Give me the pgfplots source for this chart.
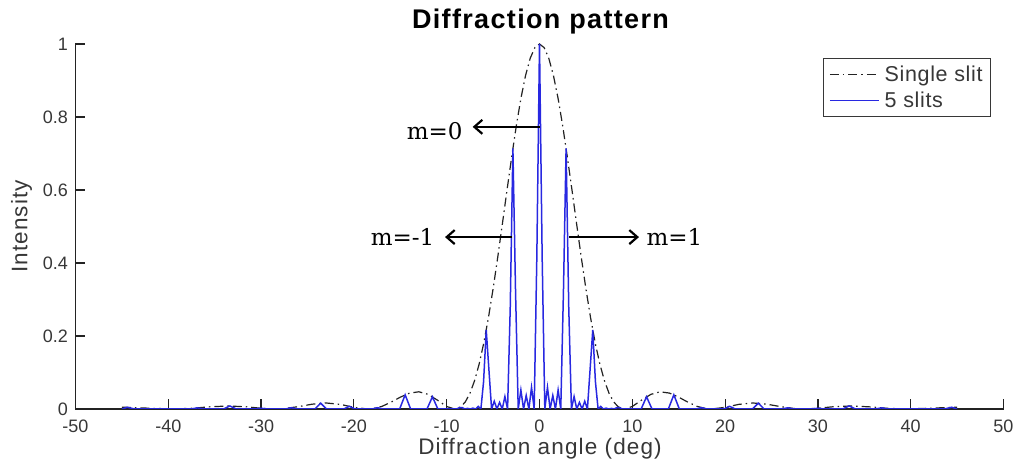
\documentclass[border=0pt]{standalone}
\usepackage{fontspec}
\setmainfont{Liberation Sans}
\newfontfamily\annfont{DejaVu Serif}
\newfontfamily\spacedfont[LetterSpace=5]{Liberation Sans}
\newfontfamily\legfont[LetterSpace=3]{Liberation Sans}
\usepackage{pgfplots}
\pgfplotsset{compat=1.18}
\usetikzlibrary{arrows.meta}
\definecolor{txtgray}{RGB}{55,55,55}
\definecolor{envcol}{RGB}{35,35,35}
\definecolor{slitblue}{RGB}{40,40,225}

\pgfplotstableread{
x y
-45 0.0050
-42 0.0021
-39.5 0
-37.5 0.0018
-35.5 0.0060
-33.5 0.0083
-31.5 0.0058
-30 0.0020
-28.49 0
-27.5 0.0011
-26 0.0064
-24.5 0.0132
-23 0.0165
-21.5 0.0128
-20 0.0046
-18.54 0
-18 0.0008
-17 0.0070
-16 0.0186
-15 0.0324
-14 0.0436
-13 0.0471
-12 0.0401
-11 0.0243
-10 0.0069
-9.15 0
-8.5 0.0056
-8 0.0193
-7.5 0.0427
-7 0.0773
-6.5 0.1235
-6 0.1815
-5.5 0.2506
-5 0.3295
-4.5 0.4158
-4 0.5071
-3.5 0.600
-3 0.6902
-2.5 0.7757
-2 0.8514
-1.5 0.9139
-1 0.961
-0.5 0.9901
0 1
0.5 0.9901
1 0.961
1.5 0.9139
2 0.8514
2.5 0.7757
3 0.6902
3.5 0.600
4 0.5071
4.5 0.4158
5 0.3295
5.5 0.2506
6 0.1815
6.5 0.1235
7 0.0773
7.5 0.0427
8 0.0193
8.5 0.0056
9.15 0
10 0.0069
11 0.0243
12 0.0401
13 0.0471
14 0.0436
15 0.0324
16 0.0186
17 0.0070
18 0.0008
18.54 0
20 0.0046
21.5 0.0128
23 0.0165
24.5 0.0132
26 0.0064
27.5 0.0011
28.49 0
30 0.0020
31.5 0.0058
33.5 0.0083
35.5 0.0060
37.5 0.0018
39.5 0
42 0.0021
45 0.0050
}\singleslit

\pgfplotstableread{
x y
-45 0
-44.4270 0.0048
-43.6329 0
-41.2999 0
-40.5416 0.0005
-39.7918 0
-37.5870 0
-36.8699 0.0030
-36.1584 0
-34.0558 0
-33.3670 0.0083
-32.6822 0
-30.6661 0
-30 0.0020
-29.3389 0
-27.3871 0
-26.7437 0.0033
-26.1046 0
-24.2054 0
-23.5782 0.0160
-22.9550 0
-21.1011 0
-20.4873 0.0073
-19.8770 0
-18.0591 0
-17.4576 0.0035
-16.8584 0
-15.0701 0
-14.4775 0.0389
-13.8865 0
-12.1222 0
-11.5370 0.0336
-10.9526 0
-10.0784 0.0003
-9.7876 0
-9.4972 0.0001
-9.2069 0
-8.9168 0.0003
-8.6269 0.0036
-8.3374 0.0038
-8.0479 0
-7.7587 0.0018
-7.4696 0
-7.1808 0.0025
-6.8921 0
-6.6036 0.0069
-6.3153 0
-6.0271 0.0746
-5.7392 0.2164
-5.4515 0.1081
-5.1637 0
-4.8761 0.0214
-4.5886 0
-4.3012 0.0181
-4.0139 0
-3.7268 0.0341
-3.4397 0
-3.1528 0.2780
-2.8660 0.7141
-2.5792 0.3196
-2.2924 0
-2.0058 0.0520
-1.7192 0
-1.4326 0.0369
-1.1460 0
-0.8595 0.0593
-0.5730 0
-0.2865 0.4175
0 1.0
0.2865 0.4175
0.5730 0
0.8595 0.0593
1.1460 0
1.4326 0.0369
1.7192 0
2.0058 0.0520
2.2924 0
2.5792 0.3196
2.8660 0.7141
3.1528 0.2780
3.4397 0
3.7268 0.0341
4.0139 0
4.3012 0.0181
4.5886 0
4.8761 0.0214
5.1637 0
5.4515 0.1081
5.7392 0.2164
6.0271 0.0746
6.3153 0
6.6036 0.0069
6.8921 0
7.1808 0.0025
7.4696 0
7.7587 0.0018
8.0479 0
8.3374 0.0038
8.6269 0.0036
8.9168 0.0003
9.2069 0
9.4972 0.0001
9.7876 0
10.0784 0.0003
10.9526 0
11.5370 0.0336
12.1222 0
13.8865 0
14.4775 0.0389
15.0701 0
16.8584 0
17.4576 0.0035
18.0591 0
19.8770 0
20.4873 0.0073
21.1011 0
22.9550 0
23.5782 0.0160
24.2054 0
26.1046 0
26.7437 0.0033
27.3871 0
29.3389 0
30 0.0020
30.6661 0
32.6822 0
33.3670 0.0083
34.0558 0
36.1584 0
36.8699 0.0030
37.5870 0
39.7918 0
40.5416 0.0005
41.2999 0
43.6329 0
44.4270 0.0048
45 0
}\fiveslits

\begin{document}
\begin{tikzpicture}
\useasboundingbox (-75.5pt,-59pt) rectangle (942.5pt,409pt);
\begin{axis}[
  scale only axis, width=928pt, height=365pt,
  at={(0,0)}, anchor=south west,
  xmin=-50, xmax=50, ymin=0, ymax=1,
  axis x line=bottom, axis y line=left,
  axis line style={-, line width=1.2pt, color=envcol},
  xtick={-50,-40,-30,-20,-10,0,10,20,30,40,50},
  ytick={0,0.2,0.4,0.6,0.8,1},
  tick align=inside, major tick length=10pt,
  tick style={line width=1.2pt, color=envcol},
  /pgf/number format/assume math mode=true,
  ticklabel style={font=\fontsize{18}{21}\selectfont, text=txtgray},
  xticklabel style={anchor=base, inner sep=0pt, yshift=-24pt},
  yticklabel style={anchor=east, inner sep=0pt, xshift=-7.5pt},
  legend style={at={(0.9865,0.9616)}, anchor=north east, draw=txtgray,
    line width=0.8pt, font=\legfont\fontsize{21.5}{24}\selectfont, text=txtgray,
    inner xsep=6pt, inner ysep=5.5pt, row sep=5pt, column sep=3pt, cells={anchor=west}},
  legend image code/.code={\draw[#1] (0pt,0pt) -- (49pt,0pt);},
]
\addplot[draw=envcol, line width=1.2pt, dash pattern=on 9pt off 4pt on 1.5pt off 4pt] table[x=x,y=y] {\singleslit};
\addlegendentry{Single slit}
\addplot[draw=slitblue, line width=1.5pt] table[x=x,y=y] {\fiveslits};
\addlegendentry{5 slits}

\draw[-{Straight Barb[length=8pt,width=14pt]}, line width=2.2pt] (axis cs:0.05,0.773) -- (axis cs:-7.2,0.773);
\draw[-{Straight Barb[length=8pt,width=14pt]}, line width=2.2pt] (axis cs:-2.96,0.471) -- (axis cs:-10.18,0.471);
\draw[-{Straight Barb[length=8pt,width=14pt]}, line width=2.2pt] (axis cs:3.18,0.471) -- (axis cs:10.72,0.471);
\node[font=\annfont\fontsize{23}{26}\selectfont] at (axis cs:-11.3,0.762) {m=0};
\node[font=\annfont\fontsize{23}{26}\selectfont] at (axis cs:-14.76,0.470) {m=-1};
\node[font=\annfont\fontsize{23}{26}\selectfont] at (axis cs:14.55,0.470) {m=1};
\end{axis}
\node[font=\spacedfont\fontsize{27}{30}\selectfont\bfseries, anchor=base] at (465pt,380.7pt) {Diffraction pattern};
\node[font=\spacedfont\fontsize{22.5}{26}\selectfont, text=txtgray, anchor=base] at (464.5pt,-45.5pt) {Diffraction angle (deg)};
\node[font=\spacedfont\fontsize{22.5}{26}\selectfont, text=txtgray, anchor=base, rotate=90] at (-48.1pt,182.5pt) {Intensity};
\end{tikzpicture}
\end{document}
